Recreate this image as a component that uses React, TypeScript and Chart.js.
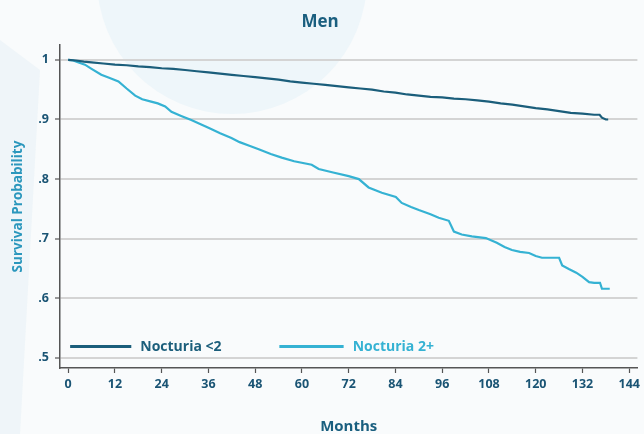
import React, { useEffect, useRef } from "react";
import { Chart, registerables } from "chart.js";

Chart.register(...registerables);

const chartTitle = "Men";
const xAxisTitle = "Months";
const yAxisTitle = "Survival Probability";

const xTicks = [0, 12, 24, 36, 48, 60, 72, 84, 96, 108, 120, 132, 144];
const yTicks = [0.5, 0.6, 0.7, 0.8, 0.9, 1.0];

const lowLabel = "Nocturia <2";
const lowMonths = [0, 2, 4, 6, 9, 12, 15, 18, 21, 24, 27, 30, 33, 36, 39, 42, 45, 48, 51, 54, 57, 60, 63, 66, 69, 72, 75, 78, 81, 84, 87, 90, 93, 96, 99, 102, 105, 108, 111, 114, 117, 120, 123, 126, 129, 132, 135, 136.4, 137, 138, 138.6];
const lowSurvival = [1.0, 0.999, 0.997, 0.996, 0.994, 0.992, 0.991, 0.989, 0.988, 0.986, 0.985, 0.983, 0.981, 0.979, 0.977, 0.975, 0.973, 0.971, 0.969, 0.967, 0.964, 0.962, 0.960, 0.958, 0.956, 0.954, 0.952, 0.950, 0.947, 0.945, 0.942, 0.940, 0.938, 0.937, 0.935, 0.934, 0.932, 0.930, 0.927, 0.925, 0.922, 0.919, 0.917, 0.914, 0.911, 0.910, 0.908, 0.908, 0.903, 0.900, 0.900];

const highLabel = "Nocturia 2+";
const highMonths = [0, 1.3, 2.5, 4.3, 6, 8.5, 10.5, 12.9, 15, 17.2, 19, 21.3, 23, 24.9, 26.5, 29, 31.6, 34, 36, 39, 41.9, 44, 46.5, 48.9, 52, 54.8, 58, 62.5, 64.3, 68, 72, 74.6, 77.1, 80.5, 84.1, 85.6, 88, 90, 93, 95.1, 97.7, 99, 101, 103.6, 107.2, 110, 112, 113.9, 116, 118.3, 120, 121.6, 126, 126.8, 128.5, 130.4, 132, 133.7, 135, 136.5, 137, 139];
const highSurvival = [1.0, 0.999, 0.996, 0.992, 0.985, 0.975, 0.970, 0.964, 0.952, 0.940, 0.934, 0.930, 0.927, 0.922, 0.913, 0.906, 0.899, 0.892, 0.886, 0.877, 0.869, 0.862, 0.856, 0.850, 0.842, 0.836, 0.830, 0.824, 0.817, 0.811, 0.805, 0.800, 0.786, 0.777, 0.770, 0.760, 0.753, 0.748, 0.741, 0.735, 0.730, 0.712, 0.707, 0.704, 0.701, 0.693, 0.686, 0.681, 0.678, 0.676, 0.671, 0.668, 0.668, 0.655, 0.649, 0.643, 0.636, 0.627, 0.626, 0.626, 0.616, 0.616];

const darkColor = "#1b5e7b";
const lightColor = "#35b2d3";
const FONT = "'Open Sans', 'DejaVu Sans', sans-serif";

const backgroundPlugin = {
  id: "bgDecor",
  beforeDraw(chart: any) {
    const { ctx, width, height } = chart;
    ctx.save();
    ctx.fillStyle = "#f9fbfc";
    ctx.fillRect(0, 0, width, height);
    ctx.fillStyle = "rgba(232,242,247,0.6)";
    ctx.beginPath();
    ctx.moveTo(0, 40);
    ctx.lineTo(40, 70);
    ctx.lineTo(20, 434);
    ctx.lineTo(0, 434);
    ctx.closePath();
    ctx.fill();
    ctx.fillStyle = "#eef6fa";
    ctx.beginPath();
    ctx.arc(232, -21, 135, 0, Math.PI * 2);
    ctx.fill();
    ctx.restore();
  },
};

const legendPlugin = {
  id: "innerLegend",
  afterDatasetsDraw(chart: any) {
    const { ctx } = chart;
    const xs = chart.scales.x;
    const ys = chart.scales.y;
    const y = ys.getPixelForValue(0.519);
    const items = [
      { x0: xs.getPixelForValue(0.5), x1: xs.getPixelForValue(16.2), ds: chart.data.datasets[0] },
      { x0: xs.getPixelForValue(54.2), x1: xs.getPixelForValue(70.7), ds: chart.data.datasets[1] },
    ];
    ctx.save();
    ctx.font = `bold 14px ${FONT}`;
    ctx.textBaseline = "middle";
    ctx.textAlign = "left";
    for (const it of items) {
      ctx.strokeStyle = it.ds.borderColor;
      ctx.lineWidth = 3;
      ctx.beginPath();
      ctx.moveTo(it.x0, y);
      ctx.lineTo(it.x1, y);
      ctx.stroke();
      ctx.fillStyle = it.ds.borderColor;
      ctx.fillText(it.ds.label, it.x1 + 9, y);
    }
    ctx.restore();
  },
};

export default function App() {
  const ref = useRef<HTMLCanvasElement>(null);
  useEffect(() => {
    document.body.style.margin = "0";
    const canvas = ref.current;
    if (!canvas) return;
    const chart = new Chart(canvas, {
      type: "line",
      data: {
        datasets: [
          {
            label: lowLabel,
            data: lowMonths.map((m, i) => ({ x: m, y: lowSurvival[i] })),
            borderColor: darkColor,
            borderWidth: 2.2,
            stepped: false,
            tension: 0,
            pointRadius: 0,
            fill: false,
          },
          {
            label: highLabel,
            data: highMonths.map((m, i) => ({ x: m, y: highSurvival[i] })),
            borderColor: lightColor,
            borderWidth: 2.2,
            stepped: false,
            tension: 0,
            pointRadius: 0,
            fill: false,
          },
        ],
      },
      options: {
        animation: false,
        responsive: false,
        maintainAspectRatio: false,
        layout: { padding: { left: 0, right: 4, top: 0, bottom: 0 } },
        plugins: {
          legend: { display: false },
          tooltip: { enabled: false },
          title: {
            display: true,
            text: chartTitle,
            color: "#1a5f7f",
            font: { family: FONT, size: 17, weight: "bold", lineHeight: 1.2 },
            padding: { top: 12, bottom: 12.6 },
          },
        },
        scales: {
          x: {
            type: "linear",
            min: -2.1,
            max: 146.1,
            afterBuildTicks: (scale: any) => {
              scale.ticks = xTicks.map((v) => ({ value: v }));
            },
            afterFit: (scale: any) => {
              scale.height = 66;
            },
            grid: {
              display: true,
              drawOnChartArea: false,
              drawTicks: true,
              tickLength: 5,
              tickColor: "#555",
              tickWidth: 1.2,
            },
            border: { display: true, color: "#555", width: 1.5 },
            ticks: {
              color: "#1a5474",
              font: { family: FONT, size: 12.5, weight: "bold" },
              padding: 4,
              maxRotation: 0,
              autoSkip: false,
            },
            title: {
              display: true,
              text: xAxisTitle,
              color: "#1a5f7f",
              font: { family: FONT, size: 15, weight: "bold", lineHeight: 1.2 },
              padding: { top: 0, bottom: -2 },
            },
          },
          y: {
            type: "linear",
            min: 0.483,
            max: 1.025,
            afterBuildTicks: (scale: any) => {
              scale.ticks = yTicks.map((v) => ({ value: v }));
            },
            afterFit: (scale: any) => {
              scale.width = 60;
            },
            grid: {
              display: true,
              color: "#d4d4d4",
              lineWidth: 2,
              drawTicks: true,
              tickLength: 5,
              tickColor: "#555",
              tickWidth: 1.2,
            },
            border: { display: true, color: "#555", width: 1.5 },
            ticks: {
              color: "#1a5474",
              font: { family: FONT, size: 12.5, weight: "bold" },
              padding: 6,
              callback: (v: any) => (Number(v) === 1 ? "1" : Number(v).toFixed(1).replace(/^0/, "")),
            },
            title: {
              display: true,
              text: yAxisTitle,
              color: "#2b97bd",
              font: { family: FONT, size: 13.5, weight: "bold", lineHeight: 1.2 },
              padding: { top: 10, bottom: 0 },
            },
          },
        },
      },
      plugins: [backgroundPlugin, legendPlugin],
    });
    return () => chart.destroy();
  }, []);
  return (
    <div style={{ width: 644, height: 434 }}>
      <canvas ref={ref} width={644} height={434} style={{ display: "block" }} />
    </div>
  );
}
